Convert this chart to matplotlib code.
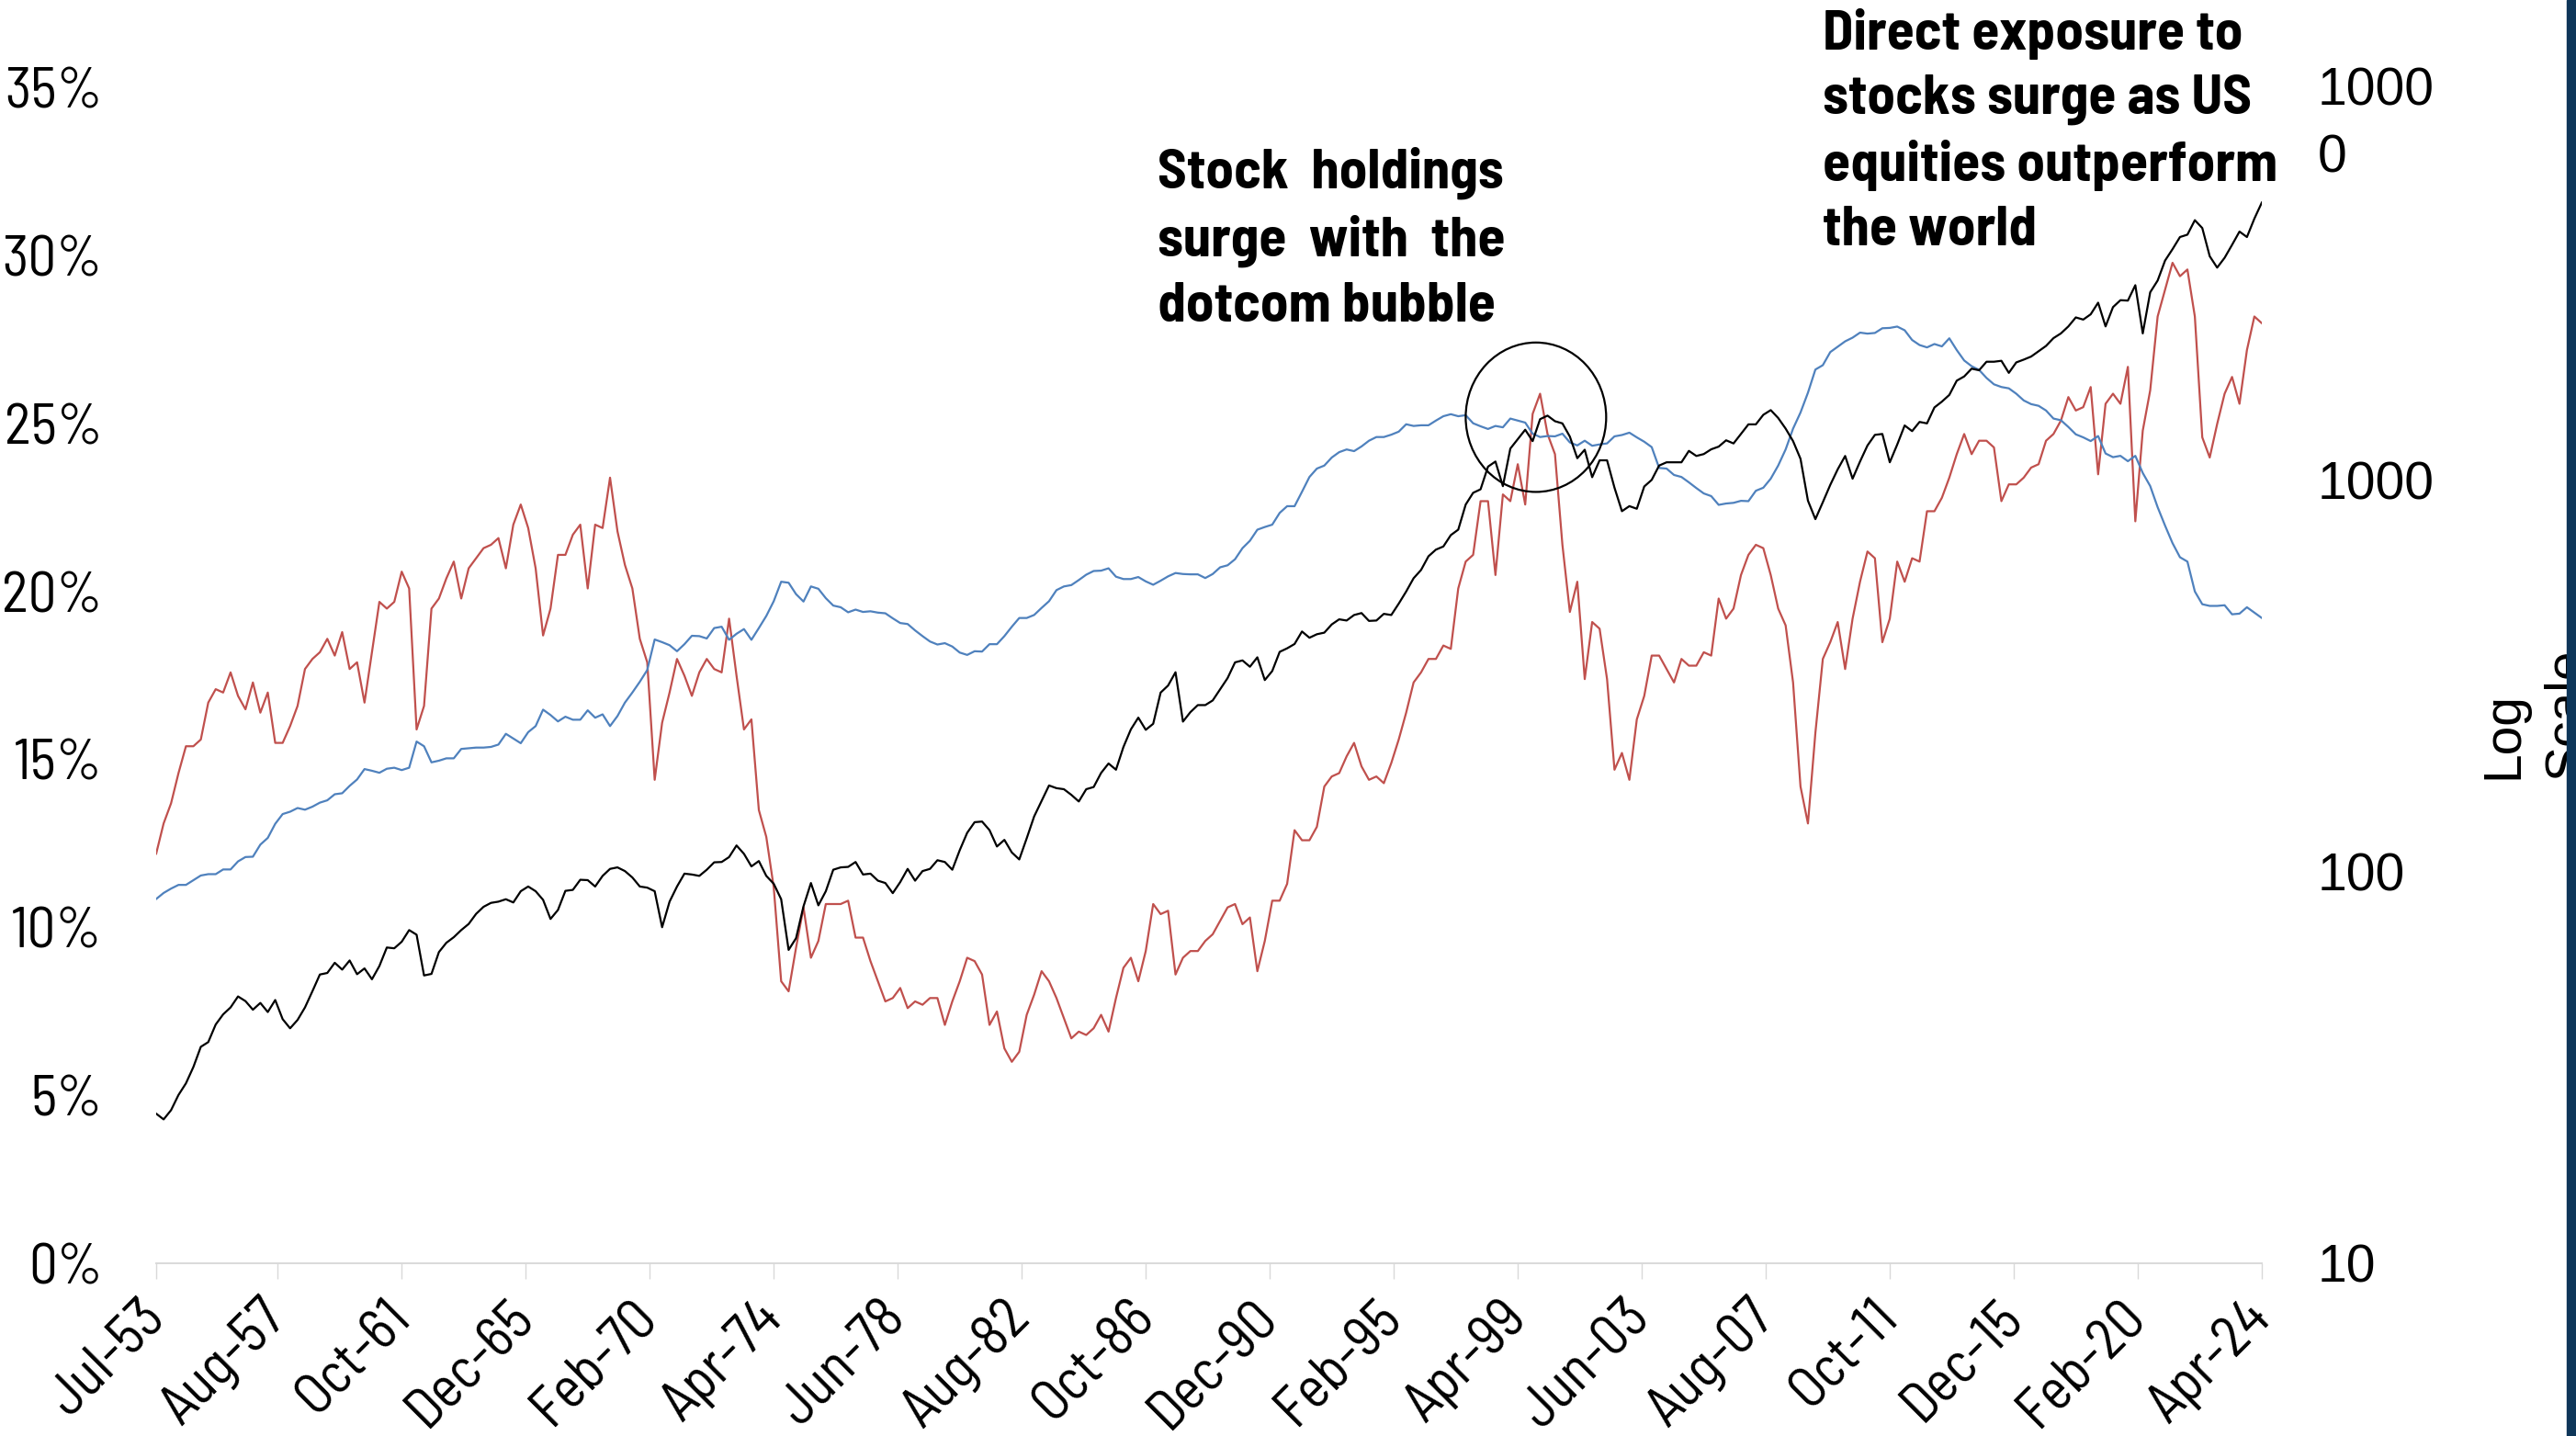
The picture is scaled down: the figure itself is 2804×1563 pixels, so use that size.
import numpy as np
import matplotlib.pyplot as plt
from matplotlib.patches import Ellipse, Rectangle
from matplotlib.ticker import NullLocator
import matplotlib.transforms as mtransforms
import logging

logging.getLogger('matplotlib.font_manager').setLevel(logging.ERROR)

# quarterly observations, first one is Jul-53
start_year = 1953.5

# red line, % (left axis)
red_share = [
    12.2, 13.1, 13.7, 14.6, 15.4, 15.4, 15.6, 16.7, 17.1, 17.0,
    17.6, 16.9, 16.5, 17.3, 16.4, 17.0, 15.5, 15.5, 16.0, 16.6,
    17.7, 18.0, 18.2, 18.6, 18.1, 18.8, 17.7, 17.9, 16.7, 18.2,
    19.7, 19.5, 19.7, 20.6, 20.1, 15.9, 16.6, 19.5, 19.8, 20.4,
    20.9, 19.8, 20.7, 21.0, 21.3, 21.4, 21.6, 20.7, 22.0, 22.6,
    21.9, 20.7, 18.7, 19.5, 21.1, 21.1, 21.7, 22.0, 20.1, 22.0,
    21.9, 23.4, 21.8, 20.8, 20.1, 18.6, 17.9, 14.4, 16.1, 17.0,
    18.0, 17.5, 16.9, 17.6, 18.0, 17.7, 17.6, 19.2, 17.5, 15.9,
    16.2, 13.5, 12.7, 11.2, 8.4, 8.1, 9.4, 10.6, 9.1, 9.6,
    10.7, 10.7, 10.7, 10.8, 9.7, 9.7, 9.0, 8.4, 7.8, 7.9,
    8.2, 7.6, 7.8, 7.7, 7.9, 7.9, 7.1, 7.8, 8.4, 9.1,
    9.0, 8.6, 7.1, 7.5, 6.4, 6.0, 6.3, 7.4, 8.0, 8.7,
    8.4, 7.9, 7.3, 6.7, 6.9, 6.8, 7.0, 7.4, 6.9, 7.9,
    8.8, 9.1, 8.4, 9.3, 10.7, 10.4, 10.5, 8.6, 9.1, 9.3,
    9.3, 9.6, 9.8, 10.2, 10.6, 10.7, 10.1, 10.3, 8.7, 9.6,
    10.8, 10.8, 11.3, 12.9, 12.6, 12.6, 13.0, 14.2, 14.5, 14.6,
    15.1, 15.5, 14.8, 14.4, 14.5, 14.3, 14.9, 15.6, 16.4, 17.3,
    17.6, 18.0, 18.0, 18.4, 18.3, 20.1, 20.9, 21.1, 22.7, 22.7,
    20.5, 22.9, 22.7, 23.8, 22.6, 25.3, 25.9, 24.7, 24.1, 21.4,
    19.4, 20.3, 17.4, 19.1, 18.9, 17.4, 14.7, 15.2, 14.4, 16.2,
    16.9, 18.1, 18.1, 17.7, 17.3, 18.0, 17.8, 17.8, 18.2, 18.1,
    19.8, 19.2, 19.5, 20.5, 21.1, 21.4, 21.3, 20.5, 19.5, 19.0,
    17.3, 14.2, 13.1, 15.8, 18.0, 18.5, 19.1, 17.7, 19.2, 20.3,
    21.2, 21.0, 18.5, 19.2, 20.9, 20.3, 21.0, 20.9, 22.4, 22.4,
    22.8, 23.4, 24.1, 24.7, 24.1, 24.5, 24.5, 24.3, 22.7, 23.2,
    23.2, 23.4, 23.7, 23.8, 24.5, 24.7, 25.1, 25.8, 25.4, 25.5,
    26.1, 23.5, 25.6, 25.9, 25.6, 26.7, 22.1, 24.8, 26.0, 28.2,
    29.0, 29.8, 29.4, 29.6, 28.2, 24.6, 24.0, 25.0, 25.9, 26.4,
    25.6, 27.2, 28.2, 28.0,
]

# blue line, % (left axis)
blue_share = [
    10.85, 11.03, 11.16, 11.27, 11.27, 11.41, 11.55, 11.59, 11.59, 11.73,
    11.73, 11.97, 12.10, 12.11, 12.47, 12.67, 13.09, 13.38, 13.45, 13.56,
    13.51, 13.60, 13.72, 13.79, 13.97, 14.00, 14.22, 14.41, 14.72, 14.67,
    14.61, 14.73, 14.76, 14.69, 14.76, 15.54, 15.40, 14.92, 14.97, 15.04,
    15.04, 15.32, 15.34, 15.36, 15.36, 15.38, 15.45, 15.77, 15.63, 15.49,
    15.82, 16.00, 16.49, 16.33, 16.14, 16.28, 16.19, 16.19, 16.47, 16.25,
    16.35, 16.00, 16.30, 16.70, 17.00, 17.32, 17.67, 18.58, 18.50, 18.41,
    18.23, 18.44, 18.69, 18.68, 18.61, 18.92, 18.96, 18.57, 18.75, 18.89,
    18.57, 18.92, 19.28, 19.72, 20.30, 20.27, 19.93, 19.71, 20.16, 20.09,
    19.81, 19.59, 19.54, 19.39, 19.47, 19.40, 19.42, 19.38, 19.36, 19.21,
    19.07, 19.04, 18.85, 18.68, 18.52, 18.43, 18.47, 18.37, 18.19, 18.12,
    18.23, 18.22, 18.44, 18.44, 18.68, 18.96, 19.22, 19.22, 19.31, 19.52,
    19.72, 20.05, 20.16, 20.20, 20.35, 20.51, 20.62, 20.63, 20.70, 20.45,
    20.38, 20.38, 20.44, 20.31, 20.21, 20.33, 20.46, 20.56, 20.53, 20.52,
    20.52, 20.41, 20.53, 20.73, 20.79, 20.97, 21.30, 21.52, 21.85, 21.93,
    22.00, 22.35, 22.55, 22.55, 22.98, 23.42, 23.67, 23.76, 24.00, 24.16,
    24.24, 24.19, 24.33, 24.50, 24.61, 24.61, 24.68, 24.77, 24.99, 24.94,
    24.96, 24.96, 25.10, 25.23, 25.29, 25.23, 25.26, 25.02, 24.93, 24.85,
    24.94, 24.90, 25.16, 25.10, 25.04, 24.71, 24.61, 24.64, 24.63, 24.71,
    24.45, 24.36, 24.50, 24.35, 24.39, 24.42, 24.63, 24.67, 24.74, 24.60,
    24.47, 24.31, 23.69, 23.67, 23.48, 23.42, 23.26, 23.09, 22.93, 22.85,
    22.59, 22.63, 22.65, 22.71, 22.70, 23.01, 23.10, 23.37, 23.76, 24.24,
    24.86, 25.34, 25.93, 26.62, 26.75, 27.14, 27.30, 27.46, 27.57, 27.72,
    27.69, 27.71, 27.85, 27.86, 27.90, 27.79, 27.50, 27.35, 27.28, 27.38,
    27.31, 27.55, 27.20, 26.89, 26.72, 26.61, 26.37, 26.18, 26.10, 26.06,
    25.90, 25.70, 25.59, 25.54, 25.40, 25.16, 25.11, 24.91, 24.69, 24.60,
    24.49, 24.64, 24.12, 24.01, 24.05, 23.89, 24.05, 23.54, 23.15, 22.52,
    21.97, 21.45, 21.03, 20.90, 20.01, 19.63, 19.58, 19.58, 19.60, 19.33,
    19.35, 19.54, 19.38, 19.22,
]

# black line, index level (right axis, log scale)
index_level = [
    24.1, 23.3, 24.6, 26.9, 28.8, 31.7, 35.7, 36.7, 40.7, 43.2,
    45.0, 48.0, 46.7, 44.4, 46.2, 43.8, 47.0, 42.0, 39.8, 41.8,
    45.0, 49.5, 54.6, 55.1, 58.5, 56.2, 59.3, 54.7, 56.6, 53.1,
    57.4, 64.0, 63.7, 66.2, 70.9, 69.0, 54.3, 54.8, 62.3, 65.8,
    68.0, 70.9, 73.5, 78.0, 81.3, 83.2, 83.8, 85.0, 83.4, 89.1,
    91.6, 89.1, 84.7, 75.7, 79.8, 89.3, 89.8, 95.3, 95.1, 91.6,
    97.5, 101.6, 102.5, 100.3, 96.6, 91.6, 91.0, 89.1, 72.1, 83.8,
    91.6, 98.8, 98.3, 97.5, 101.1, 105.6, 105.8, 108.9, 116.6, 111.0,
    103.1, 106.4, 97.5, 93.1, 85.0, 63.1, 67.6, 81.5, 93.5, 82.0,
    89.1, 101.1, 102.5, 102.8, 105.8, 98.3, 98.8, 94.8, 93.5, 88.1,
    94.0, 101.6, 94.8, 100.3, 101.6, 106.9, 105.8, 101.1, 113.4, 125.6,
    133.7, 134.2, 127.6, 115.9, 120.5, 111.9, 107.4, 121.6, 138.3, 151.4,
    165.9, 163.3, 162.3, 157.0, 151.0, 162.3, 164.4, 178.6, 188.8, 182.0,
    208.0, 230.7, 247.2, 230.1, 238.4, 286.4, 298.5, 322.8, 241.5, 255.3,
    266.1, 266.1, 273.5, 292.0, 311.9, 342.1, 346.0, 333.4, 352.4, 308.3,
    325.1, 363.9, 371.5, 381.1, 410.2, 395.4, 403.6, 407.4, 427.6, 440.6,
    437.5, 451.9, 457.1, 436.5, 437.5, 455.0, 451.9, 483.1, 518.8, 561.0,
    588.8, 638.3, 663.7, 676.1, 722.8, 746.4, 864.9, 926.8, 946.2, 1081,
    1114, 963.8, 1202, 1271, 1343, 1256, 1429, 1459, 1412, 1394,
    1290, 1136, 1194, 1016, 1122, 1122, 955, 832, 857, 844,
    962, 1000, 1088, 1109, 1109, 1109, 1186, 1151, 1164, 1197,
    1216, 1262, 1239, 1310, 1386, 1386, 1466, 1507, 1439, 1352,
    1256, 1132, 885, 794, 877, 971, 1064, 1151, 1007, 1114,
    1224, 1303, 1310, 1109, 1231, 1377, 1332, 1406, 1394, 1531,
    1584, 1648, 1792, 1837, 1923, 1905, 2003, 2003, 2014, 1876,
    1995, 2028, 2065, 2131, 2198, 2301, 2366, 2465, 2599, 2566,
    2647, 2834, 2465, 2761, 2876, 2869, 3141, 2366, 3013, 3228,
    3631, 3882, 4169, 4227, 4603, 4395, 3724, 3483, 3690, 3981,
    4305, 4169, 4645, 5105,
]

x_labels = ['Jul-53', 'Aug-57', 'Oct-61', 'Dec-65', 'Feb-70', 'Apr-74',
            'Jun-78', 'Aug-82', 'Oct-86', 'Dec-90', 'Feb-95', 'Apr-99',
            'Jun-03', 'Aug-07', 'Oct-11', 'Dec-15', 'Feb-20', 'Apr-24']
left_ticks = [0, 5, 10, 15, 20, 25, 30, 35]
right_ticks = [10, 100, 1000, 10000]
right_labels = ['10', '100', '1000', '1000\n0']

note_dotcom = "Stock  holdings\nsurge  with  the\ndotcom bubble"
note_us = "Direct exposure to\nstocks surge as US\nequities outperform\nthe world"

# circle around the dotcom peak (year, %)
circle_center = (1999.86, 25.2)
circle_size = (4.72, 4.45)

narrow = ['Barlow Semi Condensed', 'Archivo Narrow', 'IBM Plex Sans Condensed',
          'Liberation Sans', 'DejaVu Sans']
bold_narrow = ['Barlow Semi Condensed', 'Roboto Condensed', 'IBM Plex Sans Condensed',
               'Liberation Sans', 'DejaVu Sans']
regular = ['Liberation Sans', 'DejaVu Sans']

months = ['Jan', 'Feb', 'Mar', 'Apr', 'May', 'Jun',
          'Jul', 'Aug', 'Sep', 'Oct', 'Nov', 'Dec']


def label_to_year(lbl):
    m, yy = lbl.split('-')
    yy = int(yy)
    year = 1900 + yy if yy > 50 else 2000 + yy
    return year + months.index(m) / 12.0


if __name__ == "__main__":
    quarters = start_year + 0.25 * np.arange(len(red_share))
    tick_pos = [label_to_year(l) for l in x_labels]

    W, H = 2804, 1563
    fig = plt.figure(figsize=(W / 100, H / 100), dpi=100)
    ax = fig.add_axes([170 / W, 188 / H, 2292 / W, 1279 / H])

    ax.plot(quarters, red_share, color='#c0504d', lw=1.6)
    ax.plot(quarters, blue_share, color='#4f81bd', lw=1.6)
    ax.set_xlim(quarters[0], quarters[-1])
    ax.set_ylim(0, 35)

    ax2 = ax.twinx()
    ax2.plot(quarters, index_level, color='black', lw=1.6)
    ax2.set_yscale('log')
    ax2.set_ylim(10, 10000)
    ax2.yaxis.set_minor_locator(NullLocator())

    for a in (ax, ax2):
        for s in a.spines.values():
            s.set_visible(False)
    ax.spines['bottom'].set_visible(True)
    ax.spines['bottom'].set_color('#d9d9d9')
    ax.spines['bottom'].set_linewidth(1.4)

    ax.add_patch(Ellipse(circle_center, circle_size[0], circle_size[1],
                         fill=False, ec='black', lw=1.6, zorder=5))

    # left axis
    ax.set_yticks(left_ticks)
    ax.set_yticklabels(['%d%%' % t for t in left_ticks], family=narrow,
                       fontsize=44)
    ax.tick_params(axis='y', length=0, pad=42)

    # x axis
    ax.set_xticks(tick_pos)
    ax.set_xticklabels(x_labels, rotation=45, ha='right', va='center',
                       rotation_mode='anchor', family=narrow, fontsize=44)
    ax.tick_params(axis='x', length=12, width=1.0, color='#d9d9d9', pad=24)

    # right axis
    ax2.set_yticks(right_ticks)
    ax2.set_yticklabels(right_labels, family=regular, fontsize=41)
    ax2.tick_params(axis='y', length=0, pad=44)
    top_lbl = ax2.get_yticklabels()[-1]
    top_lbl.set_va('top')
    top_lbl.set_linespacing(1.45)
    top_lbl.set_transform(top_lbl.get_transform() +
                          mtransforms.ScaledTranslation(0, 17 / 72, fig.dpi_scale_trans))

    fig.text(2698 / W, 1 - 848 / H, "Log\nScale", rotation=90, ha='left',
             va='bottom', multialignment='left', family=regular, fontsize=41,
             linespacing=1.35)

    # annotations
    fig.text(1260 / W, 1 - 160 / H, note_dotcom, ha='left', va='top',
             family=bold_narrow, fontweight='bold', fontsize=44, linespacing=1.36)
    fig.text(1984 / W, 1 - 9 / H, note_us, ha='left', va='top',
             family=bold_narrow, fontweight='bold', fontsize=44, linespacing=1.36)

    # dark bar at right edge
    fig.add_artist(Rectangle((2794 / W, 0), 10 / W, 1, transform=fig.transFigure,
                             color='#0e3659', zorder=10))

    fig.savefig('out.png', dpi=100)
